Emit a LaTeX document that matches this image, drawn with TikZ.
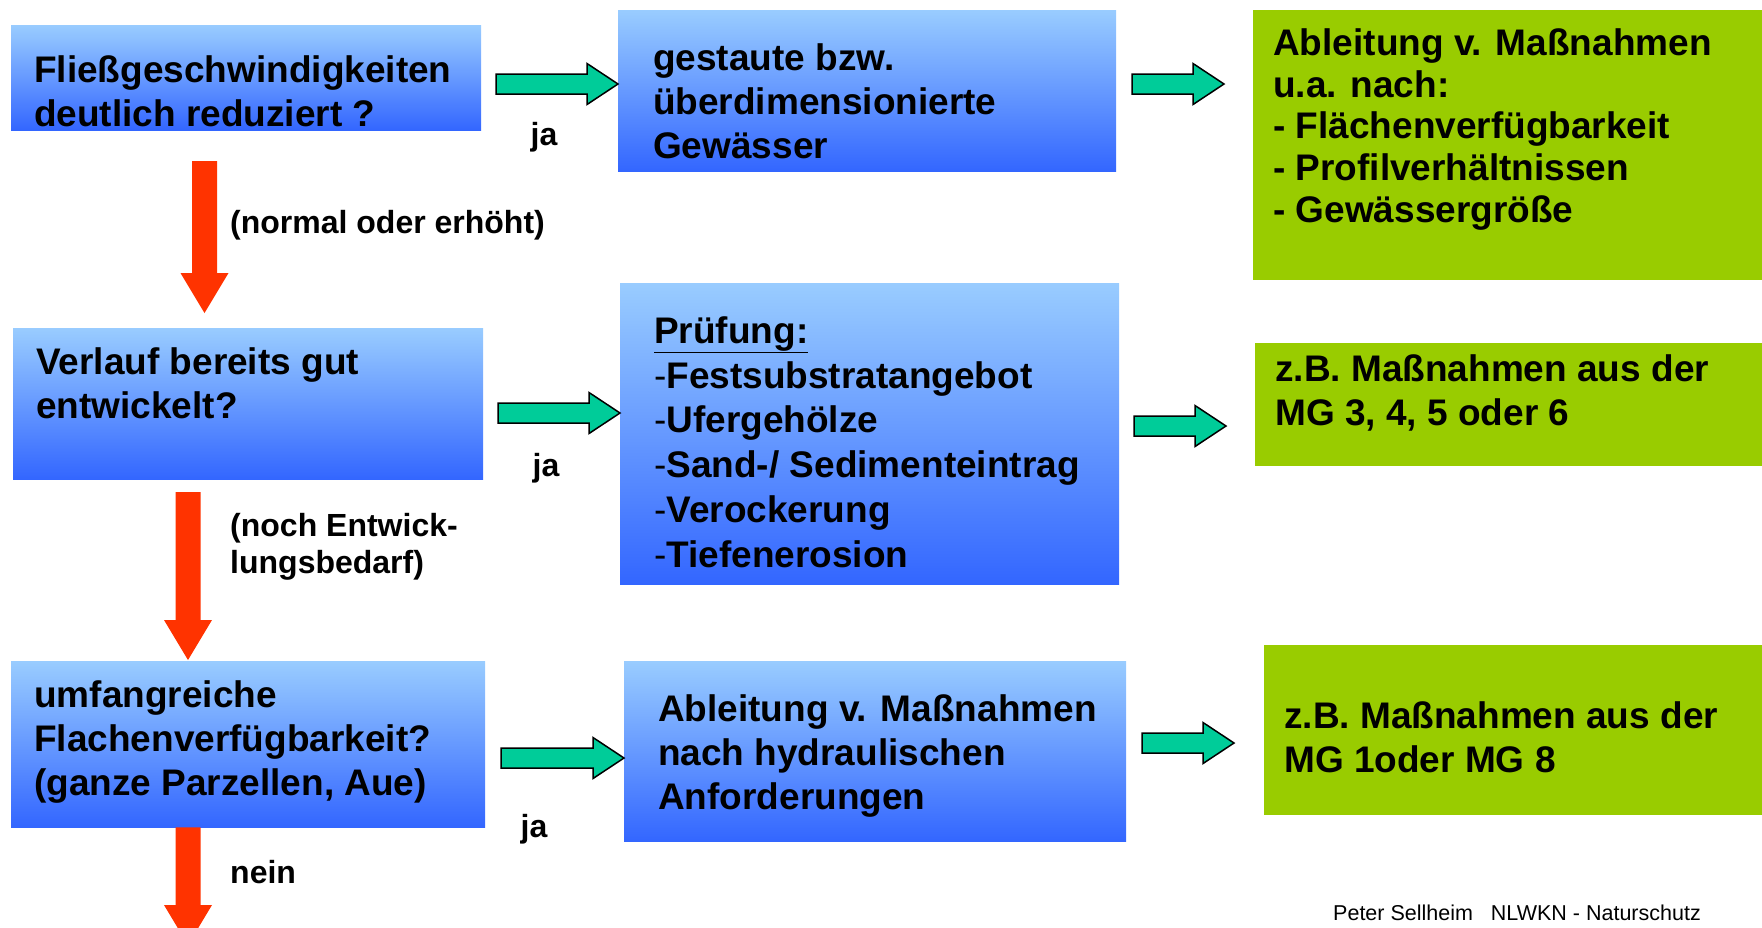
\documentclass[tikz,border=0pt]{standalone}
\usepackage{fontspec}
\setmainfont{Liberation Sans}
\usetikzlibrary{calc,positioning}
\definecolor{boxtop}{HTML}{99CCFF}
\definecolor{boxbottom}{HTML}{3366FF}
\definecolor{massgreen}{HTML}{99CC00}
\definecolor{jateal}{HTML}{00CC99}
\definecolor{neinred}{HTML}{FF3300}
\tikzset{
  bluebox/.style={anchor=north west, inner sep=0pt, top color=boxtop, bottom color=boxbottom},
  greenbox/.style={anchor=north west, inner sep=0pt, fill=massgreen},
  boxtext/.style={anchor=west, align=left, inner sep=0pt, font=\bfseries\fontsize{37}{44}\selectfont},
  lbl/.style={anchor=west, align=left, inner sep=0pt, font=\bfseries\fontsize{32}{37}\selectfont},
  jaarrow/.style={fill=jateal, draw=black, line width=1.5pt, line join=miter},
  neinarrow/.style={fill=neinred}
}
% horizontal block arrow, tip at #2
\newcommand{\jaconn}[2]{%
  \draw[jaarrow] ($(#1)+(0,-10)$) -- ($(#2)+(-31,-10)$) -- ($(#2)+(-31,-20.5)$) -- (#2)
    -- ($(#2)+(-31,20.5)$) -- ($(#2)+(-31,10)$) -- ($(#1)+(0,10)$) -- cycle;}
% vertical block arrow, tip at #2
\newcommand{\neinconn}[2]{%
  \fill[neinarrow] ($(#1)+(-12.5,0)$) -- ($(#2)+(-12.5,-40)$) -- ($(#2)+(-24,-40)$) -- (#2)
    -- ($(#2)+(24,-40)$) -- ($(#2)+(12.5,-40)$) -- ($(#1)+(12.5,0)$) -- cycle;}
\begin{document}
\begin{tikzpicture}[x=1pt, y=-1pt]
\useasboundingbox (0,0) rectangle (1762,927);
\clip (0,0) rectangle (1762,927);
% questions
\node[bluebox, minimum width=470, minimum height=105] (a1) at (11,25) {};
\node[bluebox, minimum width=470, minimum height=151] (a2) at (13,328) {};
\node[bluebox, minimum width=474, minimum height=166] (a3) at (11,661) {};
\node[boxtext] (t1) at (34,91.5) {Fließgeschwindigkeiten\\deutlich reduziert ?};
\node[boxtext] (t2) at (36,383.5) {Verlauf bereits gut\\entwickelt?};
\node[boxtext] (t3) at (34,742) {umfangreiche\\Flachenverfügbarkeit?\\(ganze Parzellen, Aue)};
% middle column
\node[bluebox, minimum width=498, minimum height=161] (b1) at (618,10) {};
\node[bluebox, minimum width=499, minimum height=301] (b2) at (620,283) {};
\node[bluebox, minimum width=502, minimum height=180] (b3) at (624,661) {};
\node[boxtext] (u1) at (653,101.5) {gestaute bzw.\\überdimensionierte\\Gewässer};
\node[boxtext, font=\bfseries\fontsize{37}{44.8}\selectfont] (u2) at (654,442) {\underline{Prüfung:}\\{\mdseries -}Festsubstratangebot\\{\mdseries -}Ufergehölze\\{\mdseries -}Sand-/ Sedimenteintrag\\{\mdseries -}Verockerung\\{\mdseries -}Tiefenerosion};
\node[boxtext] (u3) at (658,756.5) {Ableitung v. Maßnahmen\\nach hydraulischen\\Anforderungen};
% measures
\node[greenbox, minimum width=509, minimum height=270] (c1) at (1253,10) {};
\node[greenbox, minimum width=507, minimum height=123] (c2) at (1255,343) {};
\node[greenbox, minimum width=498, minimum height=170] (c3) at (1264,645) {};
\node[boxtext, font=\bfseries\fontsize{37}{41.6}\selectfont] (v1) at (1273,129.5) {Ableitung v. Maßnahmen\\u.a. nach:\\- Flächenverfügbarkeit\\- Profilverhältnissen\\- Gewässergröße};
\node[boxtext] (v2) at (1275,393) {z.B. Maßnahmen aus der\\MG 3, 4, 5 oder 6};
\node[boxtext] (v3) at (1284,737.5) {z.B. Maßnahmen aus der\\MG 1oder MG 8};
% ja arrows
\coordinate (j1s) at (496,84);  \coordinate (j1e) at (b1.west |- j1s);
\coordinate (j2s) at (498,413); \coordinate (j2e) at (b2.west |- j2s);
\coordinate (j3s) at (501,758); \coordinate (j3e) at (b3.west |- j3s);
\coordinate (k1s) at (1132,84);  \coordinate (k1e) at (1224,84);
\coordinate (k2s) at (1134,426); \coordinate (k2e) at (1226,426);
\coordinate (k3s) at (1142,743); \coordinate (k3e) at (1234,743);
\jaconn{j1s}{j1e}
\jaconn{j2s}{j2e}
\jaconn{j3s}{j3e}
\jaconn{k1s}{k1e}
\jaconn{k2s}{k2e}
\jaconn{k3s}{k3e}
\node[lbl, anchor=center] (ja1) at (544,137.5) {ja};
\node[lbl, anchor=center] (ja2) at (546,468.5) {ja};
\node[lbl, anchor=center] (ja3) at (534,829.5) {ja};
% nein arrows
\coordinate (n1s) at (204.5,161); \coordinate (n1e) at (204.5,313);
\coordinate (n2s) at (188,492);   \coordinate (n2e) at (188,660);
\coordinate (n3s) at (188,0 |- a3.south); \coordinate (n3e) at (188,945);
\neinconn{n1s}{n1e}
\neinconn{n2s}{n2e}
\neinconn{n3s}{n3e}
\node[lbl] (l1) at (230,225.5) {(normal oder erhöht)};
\node[lbl] (l2) at (230,547) {(noch Entwick-\\lungsbedarf)};
\node[lbl] (l3) at (230,872) {nein};
% footer
\node[anchor=west, inner sep=0pt, font=\fontsize{21.5}{24}\selectfont] (foot) at (1333,913) {Peter Sellheim\ \ \ NLWKN - Naturschutz};
\end{tikzpicture}
\end{document}
